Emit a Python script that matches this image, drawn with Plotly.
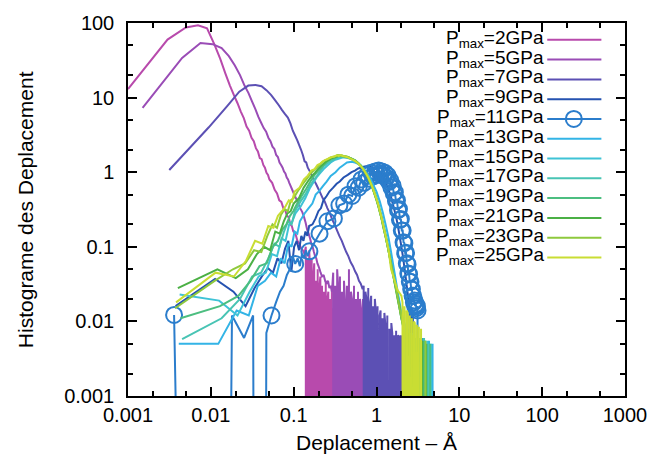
import plotly.graph_objects as go

# ---------------------------------------------------------------
# Displacement histograms (log-log), one curve per maximum pressure.
# A value of 0 means an empty bin.
# ---------------------------------------------------------------

pressures = ["2", "5", "7", "9", "11", "13", "15", "17", "19", "21", "23", "25"]

x_2 = [0.001, 0.003, 0.005, 0.007, 0.009, 0.011, 0.013, 0.015, 0.017, 0.019,
       0.021, 0.023, 0.025, 0.027, 0.029, 0.031, 0.033, 0.035, 0.037, 0.039,
       0.041, 0.043, 0.045, 0.047, 0.049, 0.051, 0.055, 0.059, 0.063, 0.067,
       0.071, 0.075, 0.079, 0.083, 0.087, 0.091, 0.095, 0.099, 0.105, 0.111,
       0.117, 0.123, 0.129, 0.135,
       0.140, 0.143, 0.147, 0.150, 0.154, 0.158, 0.161, 0.165, 0.169, 0.173,
       0.177, 0.181, 0.186, 0.190, 0.195, 0.200, 0.205, 0.210, 0.215, 0.220,
       0.226, 0.232, 0.238, 0.244, 0.250, 0.256, 0.262, 0.268, 0.275, 0.282,
       0.289, 0.296, 0.304, 0.312, 0.320, 0.330, 0.340, 0.350, 0.362, 0.375,
       0.390, 0.400, 0.430, 0.440, 0.480, 0.490]
y_2 = [13, 60, 87, 93, 85, 52, 33, 21, 14.5, 10.8,
       8.4, 6.5, 5.3, 4.1, 3.6, 2.9, 2.6, 2.1, 1.9, 1.55,
       1.5, 1.25, 1.15, 0.98, 0.92, 0.8, 0.72, 0.58, 0.52, 0.42,
       0.4, 0.33, 0.31, 0.26, 0.25, 0.2, 0.19, 0.16, 0.15, 0.12,
       0.11, 0.095, 0.09, 0.08,
       0.1, 0, 0.07, 0, 0.09, 0.05, 0, 0.07, 0, 0.04,
       0.06, 0, 0.035, 0, 0.05, 0, 0.03, 0.04, 0, 0.03,
       0, 0.025, 0, 0.035, 0, 0.02, 0.025, 0, 0.02, 0,
       0.03, 0, 0.015, 0, 0.02, 0, 0.015, 0, 0.02, 0,
       0.015, 0, 0.015, 0, 0.015, 0]

x_5 = [0.0015, 0.0045, 0.0075, 0.0105, 0.0135, 0.0165, 0.0195, 0.0225, 0.0255, 0.0285,
       0.0315, 0.0345, 0.0375, 0.0405, 0.0435, 0.0465, 0.0495, 0.0525, 0.0555, 0.0585,
       0.0615, 0.0645, 0.0675, 0.0705, 0.0735, 0.0765, 0.0795, 0.0825, 0.0855, 0.0885,
       0.0915, 0.0975, 0.1035, 0.1095, 0.1155, 0.1215, 0.1275, 0.1335, 0.1395, 0.1455,
       0.1515, 0.1575, 0.1635, 0.1695, 0.1755, 0.1815, 0.1875, 0.1935, 0.1995, 0.2055,
       0.2115, 0.22, 0.23, 0.24, 0.25, 0.26, 0.27, 0.28, 0.29,
       0.300, 0.306, 0.317, 0.325, 0.335, 0.344, 0.352, 0.362, 0.372, 0.383,
       0.394, 0.405, 0.416, 0.427, 0.440, 0.452, 0.465, 0.478, 0.492, 0.506,
       0.520, 0.535, 0.550, 0.566, 0.582, 0.598, 0.615, 0.632, 0.650, 0.668,
       0.687, 0.706, 0.726, 0.746, 0.767, 0.788, 0.810, 0.830, 0.880, 0.900]
y_5 = [7.3, 34, 54, 52, 46, 36, 27, 20, 14.5, 11.5,
       8.8, 7.0, 5.5, 4.6, 3.9, 3.5, 2.9, 2.6, 2.2, 2.05,
       1.7, 1.6, 1.35, 1.25, 1.15, 1.02, 0.96, 0.85, 0.8, 0.72,
       0.66, 0.56, 0.48, 0.42, 0.36, 0.32, 0.29, 0.25, 0.21, 0.17,
       0.15, 0.13, 0.11, 0.1, 0.085, 0.075, 0.07, 0.06, 0.055, 0.05,
       0.045, 0.04, 0.042, 0.035, 0.032, 0.035, 0.028, 0.03, 0.025,
       0.045, 0, 0.03, 0, 0.05, 0.03, 0, 0.04, 0, 0.025,
       0, 0.035, 0.02, 0, 0.03, 0, 0.05, 0, 0.025, 0.02,
       0, 0.03, 0, 0.02, 0, 0.025, 0, 0.02, 0.015, 0,
       0.02, 0, 0.015, 0, 0.02, 0, 0.015, 0, 0.015, 0]

x_7 = [0.00315, 0.00945, 0.01575, 0.02205, 0.02835, 0.03465, 0.04095, 0.04725, 0.05355, 0.05985,
       0.06615, 0.07245, 0.07875, 0.08505, 0.09135, 0.09765, 0.10395, 0.11025, 0.11655, 0.12285,
       0.12915, 0.13545, 0.14175, 0.14805, 0.1606, 0.1732, 0.1858, 0.1984, 0.211, 0.2236,
       0.2362, 0.2551, 0.274, 0.2929, 0.3118, 0.3307, 0.3559, 0.3811, 0.4063, 0.4315,
       0.4567, 0.4882, 0.5197, 0.5512, 0.5827, 0.6142, 0.6457, 0.68,
       0.700, 0.715, 0.735, 0.757, 0.775, 0.795, 0.818, 0.840, 0.862, 0.885,
       0.908, 0.930, 0.955, 0.980, 1.005, 1.030, 1.060, 1.090, 1.120, 1.150,
       1.180, 1.210, 1.245, 1.280, 1.315, 1.350, 1.390, 1.430, 1.470, 1.510,
       1.550, 1.590, 1.635, 1.680, 1.725, 1.770, 1.820, 1.870, 1.920, 1.970,
       2.020, 2.080, 2.140, 2.200, 2.260]
y_7 = [1.07, 4.0, 7.7, 12.0, 14.5, 14.8, 14.2, 12.5, 10.8, 9.2,
       7.9, 6.8, 6.0, 5.4, 4.5, 3.6, 3.1, 2.7, 2.3, 2.0,
       1.7, 1.4, 1.35, 1.15, 0.98, 0.8, 0.7, 0.6, 0.52, 0.45,
       0.41, 0.33, 0.28, 0.23, 0.2, 0.17, 0.14, 0.12, 0.1, 0.085,
       0.075, 0.062, 0.055, 0.047, 0.042, 0.035, 0.032, 0.027,
       0.03, 0, 0.025, 0.02, 0, 0.028, 0, 0.018, 0.022, 0,
       0.016, 0, 0.02, 0.014, 0, 0.016, 0, 0.012, 0.014, 0,
       0.011, 0, 0.013, 0.009, 0, 0.012, 0, 0.008, 0, 0.0095,
       0.007, 0, 0.0065, 0, 0.0075, 0, 0.0065, 0.0063, 0, 0.0065,
       0, 0.0063, 0, 0.0063, 0]

x_9 = [0.00375, 0.01125, 0.01875, 0.02625, 0.03375, 0.04125, 0.04875, 0.05625, 0.06375, 0.07125,
       0.07875, 0.08625, 0.09375, 0.10125, 0.10875, 0.11625, 0.12375, 0.13125, 0.13875, 0.14625,
       0.15375, 0.16875, 0.18375, 0.19875, 0.21375, 0.22875, 0.25, 0.27, 0.3, 0.33,
       0.36, 0.4, 0.45, 0.5, 0.55, 0.6, 0.65, 0.7, 0.75, 0.8,
       0.85, 0.9, 0.95, 1.0, 1.1, 1.2, 1.3, 1.4, 1.5, 1.6,
       1.7, 1.8, 1.9, 2.0, 2.1, 2.2, 2.3, 2.4, 2.5, 2.55,
       2.6, 2.65, 2.75, 2.8]
y_9 = [0.016, 0.037, 0.025, 0.016, 0.028, 0.04, 0.052, 0.045, 0.07, 0.06,
       0.095, 0.12, 0.046, 0.1, 0.12, 0.09, 0.14, 0.12, 0.16, 0.14,
       0.19, 0.2, 0.24, 0.3, 0.33, 0.42, 0.48, 0.55, 0.62, 0.7,
       0.75, 0.85, 0.92, 1.0, 1.05, 1.12, 1.15, 1.18, 1.2, 1.2,
       1.18, 1.17, 1.12, 1.1, 1.0, 0.85, 0.72, 0.58, 0.46, 0.35,
       0.27, 0.2, 0.14, 0.1, 0.07, 0.048, 0.032, 0.022, 0.015, 0,
       0.0133, 0, 0.0133, 0]

# 11 GPa is kept as bin indices of width BIN_11; a circle sits on every 7th bin
BIN_11 = 0.0072
k_11 = list(range(0, 22)) + list(range(28, 435, 7)) + [440, 444, 446, 458, 460, 480, 482, 500, 503]
y_11 = [0.0122, 0, 0.012, 0.006, 0.012, 0, 0.007, 0.012, 0.018, 0.025,
        0.03, 0.042, 0.05, 0.075, 0.059, 0.07, 0.055, 0.08, 0.07, 0.09,
        0.075, 0.087,
        0.15, 0.22, 0.24, 0.36, 0.38, 0.5, 0.48, 0.65, 0.62, 0.8,
        0.72, 0.9, 0.82, 0.98, 0.88, 1.02, 0.92, 1.05, 0.95, 1.02,
        0.9, 0.98, 0.84, 0.9, 0.74, 0.78, 0.62, 0.66, 0.52, 0.54,
        0.41, 0.42, 0.31, 0.32, 0.23, 0.235, 0.165, 0.165, 0.115, 0.112,
        0.082, 0.083, 0.06, 0.058, 0.044, 0.043, 0.034, 0.034, 0.027, 0.027,
        0.022, 0.022, 0.018, 0.019, 0.016, 0.017, 0.015, 0.016, 0.014,
        0, 0.006, 0, 0.006, 0, 0.006, 0, 0.006, 0]

x_13 = [0.0041, 0.0123, 0.0205, 0.0287, 0.0369, 0.0451, 0.0533, 0.0615, 0.0697, 0.0779,
        0.0861, 0.0943, 0.1025, 0.1107, 0.1189, 0.1353, 0.1517, 0.1681, 0.1845, 0.2009,
        0.2255, 0.25, 0.28, 0.32, 0.36, 0.4, 0.44, 0.5, 0.55, 0.6,
        0.65, 0.7, 0.75, 0.8, 0.85, 0.9, 0.95, 1.0, 1.1, 1.2,
        1.3, 1.4, 1.5, 1.6, 1.7, 1.8, 1.9, 2.0, 2.1, 2.2,
        2.28, 2.4, 2.5, 2.7, 2.8, 3.0, 3.1, 3.4, 3.5, 3.9,
        4.0, 4.3, 4.4, 4.75, 4.85]
y_13 = [0.005, 0.005, 0.014, 0.012, 0.03, 0.035, 0.045, 0.04, 0.07, 0.06,
        0.11, 0.1, 0.16, 0.15, 0.22, 0.28, 0.33, 0.38, 0.5, 0.55,
        0.65, 0.75, 0.89, 1.0, 1.15, 1.25, 1.35, 1.38, 1.35, 1.3,
        1.22, 1.12, 1.0, 0.9, 0.8, 0.7, 0.62, 0.55, 0.4, 0.28,
        0.19, 0.13, 0.085, 0.055, 0.037, 0.025, 0.018, 0.013, 0.011, 0.009,
        0, 0.008, 0, 0.007, 0, 0.006, 0, 0.006, 0, 0.0055,
        0, 0.0055, 0, 0.005, 0]

x_15 = [0.0042, 0.0126, 0.021, 0.0294, 0.0378, 0.0462, 0.0546, 0.063, 0.0714, 0.0798,
        0.0882, 0.0966, 0.105, 0.1218, 0.1386, 0.1554, 0.1722, 0.189, 0.21, 0.23,
        0.25, 0.28, 0.31, 0.34, 0.37, 0.4, 0.45, 0.5, 0.55, 0.6,
        0.65, 0.7, 0.75, 0.8, 0.85, 0.9, 0.95, 1.0, 1.05, 1.1,
        1.15, 1.2, 1.3, 1.4, 1.5, 1.6, 1.7, 1.8, 1.9, 2.0,
        2.1, 2.2, 2.35, 2.45, 2.9, 3.0, 3.7, 3.8, 4.1, 4.2,
        4.55, 4.65]
y_15 = [0.023, 0.019, 0.012, 0.025, 0.04, 0.045, 0.08, 0.075, 0.13, 0.12,
        0.2, 0.22, 0.28, 0.35, 0.45, 0.6, 0.72, 0.85, 0.98, 1.1,
        1.2, 1.35, 1.45, 1.5, 1.55, 1.58, 1.55, 1.5, 1.42, 1.33,
        1.22, 1.1, 0.98, 0.86, 0.74, 0.63, 0.54, 0.46, 0.38, 0.31,
        0.26, 0.21, 0.14, 0.095, 0.063, 0.044, 0.031, 0.023, 0.016, 0.012,
        0.009, 0, 0.007, 0, 0.006, 0, 0.006, 0, 0.0055, 0,
        0.005, 0]

x_17 = [0.0045, 0.0135, 0.0225, 0.0315, 0.0405, 0.0495, 0.0585, 0.0675, 0.0765, 0.0855,
        0.0945, 0.1035, 0.12, 0.138, 0.156, 0.174, 0.192, 0.21, 0.23, 0.25,
        0.28, 0.31, 0.34, 0.37, 0.4, 0.45, 0.5, 0.55, 0.6, 0.65,
        0.7, 0.75, 0.8, 0.85, 0.9, 0.95, 1.0, 1.05, 1.1, 1.15,
        1.2, 1.3, 1.4, 1.5, 1.6, 1.7, 1.8, 1.9, 2.0, 2.1,
        2.2, 2.5, 2.6, 3.2, 3.3, 3.75, 3.85, 4.3, 4.4]
y_17 = [0.0058, 0.011, 0.02, 0.04, 0.045, 0.07, 0.11, 0.1, 0.16, 0.22,
        0.2, 0.3, 0.4, 0.5, 0.65, 0.78, 0.9, 1.05, 1.2, 1.3,
        1.42, 1.5, 1.6, 1.62, 1.6, 1.57, 1.5, 1.43, 1.31, 1.2,
        1.08, 0.95, 0.83, 0.71, 0.6, 0.51, 0.43, 0.36, 0.29, 0.24,
        0.19, 0.13, 0.088, 0.058, 0.04, 0.029, 0.021, 0.015, 0.011, 0.0085,
        0, 0.007, 0, 0.006, 0, 0.006, 0, 0.005, 0]

x_19 = [0.0043, 0.0129, 0.0215, 0.0301, 0.0387, 0.0473, 0.0559, 0.0645, 0.0731, 0.0817,
        0.0903, 0.0989, 0.1075, 0.1247, 0.1419, 0.1591, 0.1763, 0.1935, 0.21, 0.23,
        0.25, 0.28, 0.31, 0.34, 0.37, 0.4, 0.45, 0.5, 0.55, 0.6,
        0.65, 0.7, 0.75, 0.8, 0.85, 0.9, 0.95, 1.0, 1.05, 1.1,
        1.15, 1.2, 1.3, 1.4, 1.5, 1.6, 1.7, 1.8, 1.9, 2.0,
        2.1, 2.2, 2.55, 2.65, 3.3, 3.4, 3.85, 3.95, 4.45, 4.55]
y_19 = [0.011, 0.016, 0.022, 0.035, 0.055, 0.06, 0.1, 0.12, 0.17, 0.2,
        0.26, 0.3, 0.36, 0.48, 0.6, 0.75, 0.9, 1.02, 1.12, 1.25,
        1.38, 1.5, 1.55, 1.62, 1.65, 1.62, 1.6, 1.52, 1.45, 1.34,
        1.22, 1.09, 0.96, 0.84, 0.72, 0.62, 0.52, 0.44, 0.37, 0.3,
        0.25, 0.2, 0.135, 0.09, 0.06, 0.042, 0.03, 0.022, 0.016, 0.012,
        0.009, 0, 0.007, 0, 0.006, 0, 0.0055, 0, 0.005, 0]

x_21 = [0.004, 0.012, 0.02, 0.028, 0.036, 0.044, 0.052, 0.06, 0.068, 0.076,
        0.084, 0.092, 0.1, 0.116, 0.132, 0.148, 0.164, 0.18, 0.196, 0.212,
        0.23, 0.25, 0.28, 0.31, 0.34, 0.37, 0.4, 0.45, 0.5, 0.55,
        0.6, 0.65, 0.7, 0.75, 0.8, 0.85, 0.9, 0.95, 1.0, 1.05,
        1.1, 1.15, 1.2, 1.3, 1.4, 1.5, 1.6, 1.7, 1.8, 1.9,
        2.0, 2.1, 2.2, 2.45, 2.55, 3.05, 3.15, 3.6, 3.7, 4.0,
        4.1]
y_21 = [0.028, 0.05, 0.038, 0.05, 0.08, 0.1, 0.09, 0.16, 0.15, 0.22,
        0.28, 0.3, 0.38, 0.45, 0.62, 0.75, 0.88, 0.98, 1.1, 1.2,
        1.3, 1.4, 1.52, 1.6, 1.65, 1.68, 1.65, 1.6, 1.52, 1.43,
        1.32, 1.2, 1.07, 0.94, 0.82, 0.7, 0.6, 0.5, 0.42, 0.35,
        0.29, 0.24, 0.19, 0.13, 0.087, 0.058, 0.04, 0.028, 0.02, 0.015,
        0.011, 0.0085, 0, 0.007, 0, 0.006, 0, 0.0055, 0, 0.005,
        0]

x_23 = [0.0037, 0.0111, 0.0185, 0.0259, 0.0333, 0.0407, 0.0481, 0.0555, 0.0629, 0.0703,
        0.0777, 0.0851, 0.0925, 0.0999, 0.1147, 0.1295, 0.1443, 0.1591, 0.1739, 0.1887,
        0.2035, 0.22, 0.24, 0.26, 0.28, 0.31, 0.34, 0.37, 0.4, 0.45,
        0.5, 0.55, 0.6, 0.65, 0.7, 0.75, 0.8, 0.85, 0.9, 0.95,
        1.0, 1.05, 1.1, 1.15, 1.2, 1.3, 1.4, 1.5, 1.6, 1.7,
        1.8, 1.9, 2.0, 2.1, 2.2, 2.3, 2.4, 2.75, 2.85, 3.45,
        3.55, 3.9, 4.0]
y_23 = [0.015, 0.035, 0.05, 0.06, 0.09, 0.085, 0.14, 0.2, 0.18, 0.27,
        0.32, 0.3, 0.42, 0.45, 0.58, 0.7, 0.82, 0.95, 1.05, 1.15,
        1.25, 1.35, 1.45, 1.5, 1.58, 1.62, 1.7, 1.68, 1.65, 1.6,
        1.5, 1.42, 1.32, 1.2, 1.08, 0.95, 0.83, 0.71, 0.61, 0.51,
        0.43, 0.36, 0.29, 0.24, 0.2, 0.13, 0.088, 0.059, 0.041, 0.029,
        0.021, 0.015, 0.011, 0.009, 0, 0.0075, 0, 0.0065, 0, 0.006,
        0, 0.0055, 0]

x_25 = [0.0038, 0.0114, 0.019, 0.0266, 0.0342, 0.0418, 0.0494, 0.057, 0.0646, 0.0722,
        0.0798, 0.0874, 0.095, 0.1026, 0.1178, 0.133, 0.1482, 0.1634, 0.1786, 0.1938,
        0.209, 0.2242, 0.2394, 0.2546, 0.27, 0.29, 0.31, 0.33, 0.35, 0.37,
        0.39, 0.42, 0.45, 0.5, 0.55, 0.6, 0.65, 0.7, 0.75, 0.8,
        0.85, 0.9, 0.95, 1.0, 1.05, 1.1, 1.15, 1.2, 1.3, 1.4,
        1.5, 1.6, 1.7, 1.8, 1.9,
        2.0, 2.06, 2.12, 2.18, 2.24, 2.31, 2.38, 2.45, 2.52, 2.6,
        2.67, 2.75, 2.83, 2.9, 2.98, 3.07, 3.16, 3.25, 3.35, 3.45,
        3.55, 3.65]
y_25 = [0.018, 0.045, 0.04, 0.065, 0.12, 0.11, 0.19, 0.18, 0.26, 0.3,
        0.35, 0.42, 0.4, 0.55, 0.62, 0.8, 0.9, 1.05, 1.1, 1.25,
        1.3, 1.4, 1.45, 1.5, 1.55, 1.6, 1.62, 1.68, 1.65, 1.7,
        1.65, 1.62, 1.58, 1.5, 1.42, 1.32, 1.2, 1.08, 0.95, 0.84,
        0.72, 0.62, 0.52, 0.44, 0.37, 0.3, 0.25, 0.2, 0.135, 0.09,
        0.05, 0.04, 0.032, 0.026, 0.024,
        0.022, 0.018, 0, 0.016, 0, 0.014, 0.013, 0, 0.012, 0,
        0.011, 0, 0.01, 0.0095, 0, 0.009, 0, 0.0085, 0, 0.008,
        0, 0]

colors = ["#b84aac", "#9a4cb6", "#5c50b4", "#2552b0", "#2b7dcc", "#33b4e6",
          "#3fc3d6", "#48c4b4", "#4cbe80", "#4bb045", "#8ec93d", "#c9dd33"]

x_ticks = [0.001, 0.01, 0.1, 1, 10, 100, 1000]
x_ticktext = ["0.001", "0.01", "0.1", "1", "10", "100", "1000"]
y_ticks = [0.001, 0.01, 0.1, 1, 10, 100]
y_ticktext = ["0.001", "0.01", "0.1", "1", "10", "100"]
x_minor = [0.002, 0.005, 0.02, 0.05, 0.2, 0.5, 2, 5, 20, 50, 200, 500]
y_minor = [0.002, 0.005, 0.02, 0.05, 0.2, 0.5, 2, 5, 20, 50]

x_title = "Deplacement – Å"
y_title = "Histograme des Deplacement"

# ---------------------------------------------------------------
x_11 = [(k + 0.5) * BIN_11 for k in k_11]
x_11_pts = [x for k, x, y in zip(k_11, x_11, y_11) if k % 7 == 0 and y > 0]
y_11_pts = [y for k, x, y in zip(k_11, x_11, y_11) if k % 7 == 0 and y > 0]

series_x = [x_2, x_5, x_7, x_9, x_11, x_13, x_15, x_17, x_19, x_21, x_23, x_25]
series_y = [y_2, y_5, y_7, y_9, y_11, y_13, y_15, y_17, y_19, y_21, y_23, y_25]

for p, xs, ys in zip(pressures, series_x, series_y):
    assert len(xs) == len(ys), (p, len(xs), len(ys))

# empty bins drop far below the axis so the line plunges to the bottom edge
EMPTY = 1e-30


def lift(vals):
    return [v if v > 0 else EMPTY for v in vals]


FONT = "Liberation Sans, Arial, Helvetica, sans-serif"
FS_TICK = 20
FS_TITLE = 21
FS_KEY = 19
L, R, T, B = 128, 26, 19, 60
W, H = 659, 456
plot_w = W - L - R
plot_h = H - T - B


def px_x(px):
    return (px - L) / plot_w


def px_y(py):
    return (H - B - py) / plot_h


fig = go.Figure()
for p, xs, ys, c in zip(pressures, series_x, series_y, colors):
    fig.add_trace(go.Scatter(
        x=xs, y=lift(ys), mode="lines",
        line=dict(color=c, width=2, simplify=False),
        name=f"Pmax={p}GPa", showlegend=False, hoverinfo="skip"))
    if p == "11":
        fig.add_trace(go.Scatter(
            x=x_11_pts, y=y_11_pts, mode="markers",
            marker=dict(symbol="circle-open", size=16, color=c,
                        line=dict(width=2, color=c)),
            showlegend=False, hoverinfo="skip"))

# key: right-aligned labels with a line sample to their right
for i, (p, c) in enumerate(zip(pressures, colors)):
    py = 36 + 20 * i
    fig.add_annotation(
        x=px_x(553), y=px_y(py), xref="paper", yref="paper",
        xanchor="right", yanchor="middle", showarrow=False, yshift=1,
        text="P<sub>max</sub>=%sGPa" % p,
        font=dict(family=FONT, size=FS_KEY, color="black"))
    fig.add_shape(type="line", xref="paper", yref="paper",
                  x0=px_x(554), x1=px_x(609), y0=px_y(py), y1=px_y(py),
                  line=dict(color=c, width=2))
    if p == "11":
        fig.add_shape(type="circle", xref="paper", yref="paper",
                      xsizemode="pixel", ysizemode="pixel",
                      xanchor=px_x(581), yanchor=px_y(py),
                      x0=-8, x1=8, y0=-8, y1=8,
                      line=dict(color=c, width=2))

# axis titles
fig.add_annotation(x=0.5, y=px_y(443), xref="paper", yref="paper",
                   xanchor="center", yanchor="middle", showarrow=False,
                   text=x_title, font=dict(family=FONT, size=FS_TITLE, color="black"))
fig.add_annotation(x=px_x(24), y=0.5, xref="paper", yref="paper",
                   xanchor="center", yanchor="middle", showarrow=False,
                   textangle=-90, text=y_title,
                   font=dict(family=FONT, size=FS_TITLE, color="black"))

axis_common = dict(
    type="log", showgrid=False, zeroline=False,
    showline=True, linecolor="black", linewidth=1.5, mirror="allticks",
    ticks="inside", ticklen=9, tickwidth=1.5, tickcolor="black",
    tickfont=dict(family=FONT, size=FS_TICK, color="black"),
    tickmode="array",
)

fig.update_layout(
    width=W, height=H,
    margin=dict(l=L, r=R, t=T, b=B),
    paper_bgcolor="white", plot_bgcolor="white",
    font=dict(family=FONT, size=FS_TICK, color="black"),
    xaxis=dict(axis_common, range=[-3, 3], tickvals=x_ticks, ticktext=x_ticktext,
               minor=dict(ticks="inside", ticklen=5, tickwidth=1.5, tickcolor="black",
                          tickvals=x_minor, showgrid=False)),
    yaxis=dict(axis_common, range=[-3, 2], tickvals=y_ticks, ticktext=y_ticktext,
               ticklabelstandoff=8,
               minor=dict(ticks="inside", ticklen=5, tickwidth=1.5, tickcolor="black",
                          tickvals=y_minor, showgrid=False)),
)

fig.write_html("out.html")
